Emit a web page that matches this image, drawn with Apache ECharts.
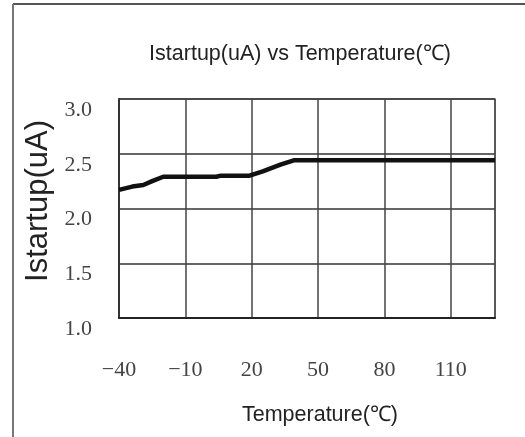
<!DOCTYPE html>
<html>
<head>
<meta charset="utf-8">
<script src="https://cdn.jsdelivr.net/npm/echarts@6/dist/echarts.min.js"></script>
<style>
  html, body { margin: 0; padding: 0; background: #fff; }
  #chart { width: 525px; height: 437px; }
</style>
</head>
<body>
<div id="chart"></div>
<script>
// temperature (℃) and startup current (uA)
const temps = [-40, -34, -29, -25, -20, 4, 6, 19, 25, 33, 39, 130]
const istartup = [2.17, 2.20, 2.215, 2.25, 2.29, 2.29, 2.30, 2.30, 2.34, 2.40, 2.44, 2.44]

const myChart = echarts.init(document.getElementById('chart'))
const sans = "'Liberation Sans', Arial, sans-serif"
const serif = "'Liberation Serif', 'DejaVu Serif', serif"

myChart.setOption({
  backgroundColor: '#fff',
  animation: false,
  title: {
    text: 'Istartup(uA) vs Temperature(℃)',
    left: 295,
    top: 38,
    textAlign: 'center',
    textStyle: {
      fontFamily: sans,
      fontSize: 21.5,
      fontWeight: 'normal',
      color: '#222'
    }
  },
  // outer frame of the picture (top and left edges only)
  graphic: [
    { type: 'line', shape: { x1: 13, y1: 4, x2: 525, y2: 4 }, style: { stroke: '#555', lineWidth: 2 } },
    { type: 'line', shape: { x1: 13, y1: 4, x2: 13, y2: 437 }, style: { stroke: '#777', lineWidth: 2 } }
  ],
  grid: {
    left: 119,
    right: 30,
    top: 99,
    bottom: 119,
    show: true,
    borderColor: '#777',
    borderWidth: 1.5
  },
  xAxis: {
    type: 'value',
    min: -40,
    max: 130,
    interval: 30,
    name: 'Temperature(℃)',
    nameLocation: 'middle',
    nameGap: 86,
    nameTextStyle: {
      fontFamily: sans,
      fontSize: 21.5,
      color: '#222',
      padding: [0, 0, 0, 26]
    },
    axisLine: { show: true, lineStyle: { color: '#222', width: 2 } },
    axisTick: { show: false },
    axisLabel: {
      margin: 41,
      showMaxLabel: false,
      fontFamily: serif,
      fontSize: 22,
      color: '#444',
      formatter: v => String(v).replace('-', '−')
    },
    splitLine: { show: true, lineStyle: { color: '#444', width: 1.5 } }
  },
  yAxis: {
    type: 'value',
    min: 1,
    max: 3,
    interval: 0.5,
    name: 'Istartup(uA)',
    nameLocation: 'middle',
    nameGap: 64,
    nameTextStyle: {
      fontFamily: sans,
      fontSize: 31,
      color: '#222',
      padding: [0, 0, 0, 15]
    },
    axisLine: { show: true, onZero: false, lineStyle: { color: '#333', width: 2 } },
    axisTick: { show: false },
    axisLabel: {
      margin: 27,
      verticalAlign: 'top',
      fontFamily: serif,
      fontSize: 22,
      color: '#444',
      formatter: v => v.toFixed(1)
    },
    splitLine: { show: true, lineStyle: { color: '#333', width: 1.5 } }
  },
  series: [
    {
      type: 'line',
      showSymbol: false,
      smooth: false,
      color: '#111',
      lineStyle: { width: 4.5, color: '#111' },
      data: temps.map((t, i) => [t, istartup[i]])
    }
  ]
})
</script>
</body>
</html>
